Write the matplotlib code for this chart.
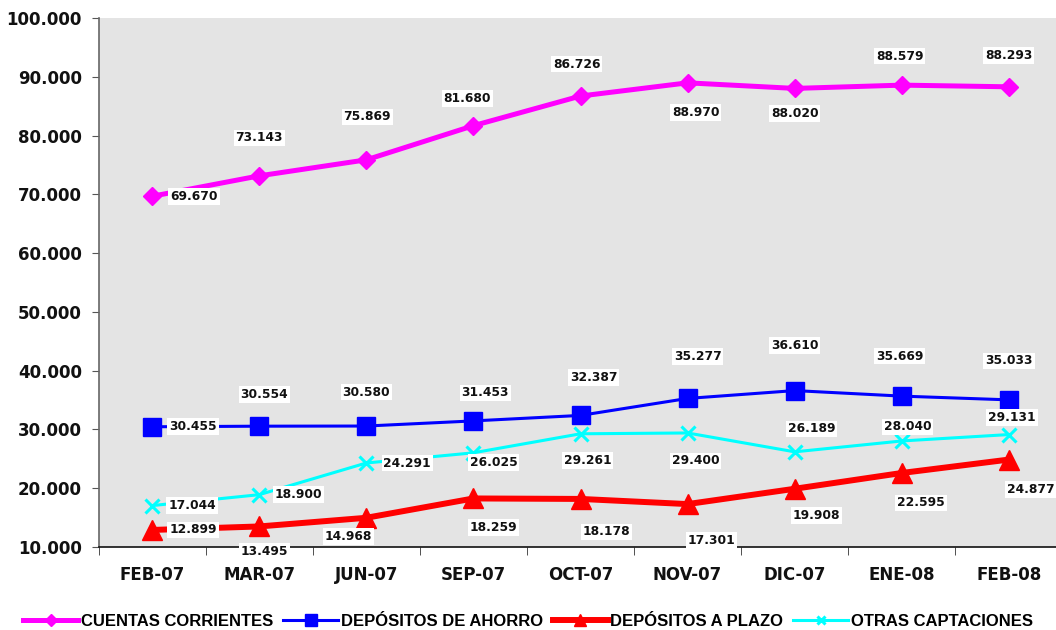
import matplotlib
matplotlib.use("Agg")
import matplotlib.pyplot as plt
import numpy as np

categories = ["FEB-07", "MAR-07", "JUN-07", "SEP-07", "OCT-07", "NOV-07", "DIC-07", "ENE-08", "FEB-08"]
cuentas_corrientes = [69.670, 73.143, 75.869, 81.680, 86.726, 88.970, 88.020, 88.579, 88.293]
depositos_ahorro = [30.455, 30.554, 30.580, 31.453, 32.387, 35.277, 36.610, 35.669, 35.033]
depositos_plazo = [12.899, 13.495, 14.968, 18.259, 18.178, 17.301, 19.908, 22.595, 24.877]
otras_captaciones = [17.044, 18.900, 24.291, 26.025, 29.261, 29.400, 26.189, 28.040, 29.131]
series_names = ["CUENTAS CORRIENTES", "DEPÓSITOS DE AHORRO", "DEPÓSITOS A PLAZO", "OTRAS CAPTACIONES"]
y_ticks = [10, 20, 30, 40, 50, 60, 70, 80, 90, 100]

# label offsets in pixels (dx, dy; dy positive = up)
off_cc = [(42, 0), (0, 38), (1, 43), (-6, 27), (-4, 32), (8, -30), (0, -25), (-2, 29), (0, 31)]
off_da = [(41, 0), (5, 32), (0, 34), (12, 28), (13, 38), (10, 42), (0, 45), (-2, 40), (0, 39)]
off_dp = [(41, 0), (5, -25), (-18, -19), (20, -29), (26, -33), (24, -36), (22, -27), (19, -30), (22, -30)]
off_oc = [(40, 0), (39, 0), (41, 0), (20, -10), (7, -27), (8, -28), (17, 23), (6, 14), (3, 17)]

fig = plt.figure(figsize=(10.56, 6.30), dpi=100)
ax = fig.add_axes([98.5 / 1056, 83 / 630, 964 / 1056, 529 / 630])
ax.set_facecolor("#e4e4e4")

x = np.arange(len(categories))
l1, = ax.plot(x, cuentas_corrientes, color="#ff00ff", lw=3.6, marker="D", ms=9.5, zorder=3)
l2, = ax.plot(x, depositos_ahorro, color="#0000ff", lw=2.2, marker="s", ms=13.5, zorder=3)
l3, = ax.plot(x, depositos_plazo, color="#ff0000", lw=4.3, marker="^", ms=15, zorder=3)
l4, = ax.plot(x, otras_captaciones, color="#00ffff", lw=2.2, marker="x", ms=10, mew=2.2, zorder=3)

def labels(vals, offs):
    for xi, v, (dx, dy) in zip(x, vals, offs):
        ax.annotate(f"{v:.3f}", (xi, v), xytext=(dx, dy), textcoords="offset pixels",
                    ha="center", va="center", fontsize=8.8, fontweight="bold", color="#111111",
                    family="DejaVu Sans", annotation_clip=False, zorder=5,
                    bbox=dict(boxstyle="square,pad=0.15", fc="white", ec="none"))

labels(cuentas_corrientes, off_cc)
labels(depositos_ahorro, off_da)
labels(depositos_plazo, off_dp)
labels(otras_captaciones, off_oc)

ax.set_xlim(-0.5, len(categories) - 0.5)
ax.set_ylim(10, 100)
ax.set_yticks(y_ticks)
ax.set_yticklabels([f"{t:.3f}" for t in y_ticks], fontsize=12, fontweight="bold", color="#111111")
ax.set_xticks(x)
ax.set_xticklabels(categories, fontsize=12, fontweight="bold", color="#111111")
ax.set_xticks(np.arange(-0.5, len(categories), 1.0), minor=True)
ax.tick_params(axis="x", which="major", length=0, pad=14)
ax.tick_params(axis="x", which="minor", length=6, direction="out", color="#333333")
ax.tick_params(axis="y", which="major", length=5, direction="out", color="#555555", pad=7)
for s in ["top", "right"]:
    ax.spines[s].set_visible(False)
ax.spines["left"].set_color("#666666")
ax.spines["left"].set_linewidth(1.2)
ax.spines["bottom"].set_color("#111111")
ax.spines["bottom"].set_linewidth(1.2)

fig.legend([l1, l2, l3, l4], series_names, loc="center", bbox_to_anchor=(0.5, 1 - 621 / 630),
           ncol=4, frameon=False, handlelength=3.3, handletextpad=0.15, columnspacing=0.6,
           prop=dict(family="Liberation Sans", weight="bold", size=12), borderaxespad=0,
           markerscale=0.6)

fig.savefig("out.png", dpi=100)
